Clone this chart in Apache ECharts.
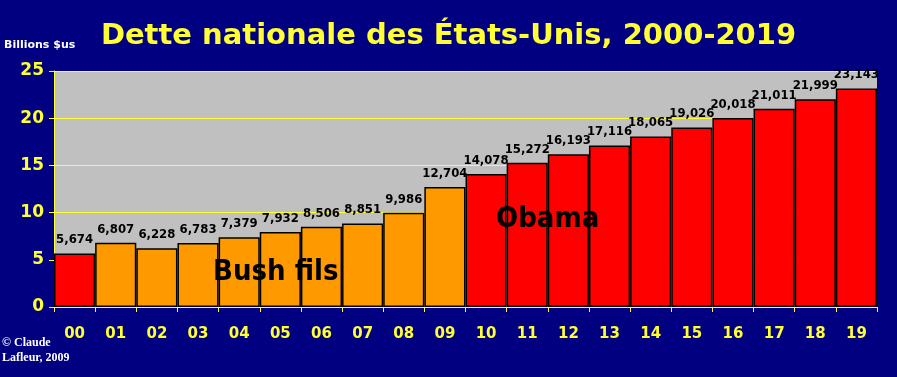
<!DOCTYPE html>
<html>
<head>
<meta charset="utf-8">
<script src="https://cdn.jsdelivr.net/npm/echarts@6/dist/echarts.min.js"></script>
<style>
  html, body { margin: 0; padding: 0; background: #000080; }
  #chart { width: 897px; height: 377px; }
</style>
</head>
<body>
<div id="chart"></div>
<script>
// annees 2000-2019
var years = ['00', '01', '02', '03', '04', '05', '06', '07', '08', '09',
             '10', '11', '12', '13', '14', '15', '16', '17', '18', '19'];
// dette en milliers de milliards $US
var debt = [5.674, 6.807, 6.228, 6.783, 7.379, 7.932, 8.506, 8.851, 9.986, 12.704,
            14.078, 15.272, 16.193, 17.116, 18.065, 19.026, 20.018, 21.011, 21.999, 23.143];
// presidence : R = rouge, B = orange (Bush fils)
var term = ['R', 'B', 'B', 'B', 'B', 'B', 'B', 'B', 'B', 'B',
            'R', 'R', 'R', 'R', 'R', 'R', 'R', 'R', 'R', 'R'];
var yTicks = [0, 5, 10, 15, 20, 25];

var colors = { R: '#FF0000', B: '#FF9900' };

function fmt(v) {
  var n = Math.round(v * 1000);
  return String(n).replace(/\B(?=(\d{3})+(?!\d))/g, ',');
}

var chart = echarts.init(document.getElementById('chart'));

var option = {
  backgroundColor: '#000080',
  animation: false,
  title: {
    text: 'Dette nationale des États-Unis, 2000-2019',
    left: 'center',
    top: 17,
    textStyle: { color: '#FFFF33', fontSize: 29, fontWeight: 'bold', fontFamily: 'DejaVu Sans' }
  },
  grid: {
    left: 54, right: 20, top: 71, bottom: 70,
    show: true, backgroundColor: '#C0C0C0', borderWidth: 0
  },
  xAxis: {
    type: 'category',
    data: years,
    axisLine: { lineStyle: { color: '#FFFF33', width: 1 } },
    axisTick: { show: true, lineStyle: { color: '#FFFF33' }, length: 5 },
    axisLabel: { color: '#FFFF33', fontSize: 15, fontWeight: 'bold', fontFamily: 'DejaVu Sans', margin: 20 }
  },
  yAxis: {
    type: 'value',
    min: yTicks[0],
    max: yTicks[yTicks.length - 1],
    interval: 5,
    name: 'Billions $us',
    nameLocation: 'end',
    nameGap: 20,
    nameTextStyle: { color: '#FFFFFF', fontSize: 11, fontWeight: 'bold', fontFamily: 'DejaVu Sans', align: 'left', padding: [0, 0, 0, -50] },
    axisLine: { show: true, lineStyle: { color: '#FFFF33' } },
    axisTick: { show: true, length: 5, lineStyle: { color: '#FFFF33' } },
    splitLine: { lineStyle: { color: '#FFFF33', width: 1 } },
    axisLabel: { color: '#FFFF33', fontSize: 17, fontWeight: 'bold', fontFamily: 'DejaVu Sans', margin: 10 }
  },
  series: [{
    type: 'bar',
    barCategoryGap: 0,
    data: debt.map(function (v, i) {
      return { value: v, itemStyle: { color: colors[term[i]] } };
    }),
    itemStyle: { borderColor: '#000000', borderWidth: 1.5 },
    label: {
      show: true,
      position: 'top',
      distance: 7,
      color: '#000000',
      fontSize: 13,
      fontWeight: 'bold',
      fontFamily: 'DejaVu Sans Condensed',
      formatter: function (p) { return fmt(p.value); }
    }
  }],
  graphic: [
    { type: 'text', z: 100, left: 213, top: 258, style: { text: 'Bush fils', fill: '#000000', font: 'bold 29px "DejaVu Sans Condensed"' } },
    { type: 'text', z: 100, left: 496, top: 205, style: { text: 'Obama', fill: '#000000', font: 'bold 29px "DejaVu Sans Condensed"' } },
    { type: 'text', z: 100, left: 2, top: 335, style: { text: '© Claude\nLafleur, 2009', fill: '#FFFFFF', font: 'bold 12px "Liberation Serif"', lineHeight: 15 } }
  ]
};

chart.setOption(option);
</script>
</body>
</html>
